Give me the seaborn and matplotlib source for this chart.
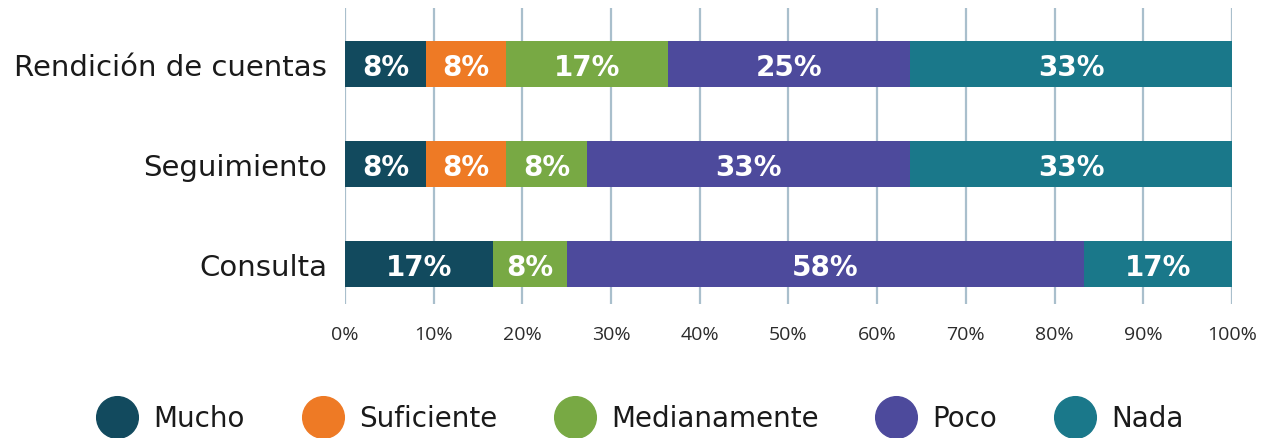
import matplotlib
matplotlib.use("Agg")
import matplotlib.pyplot as plt
from matplotlib.lines import Line2D
import seaborn as sns
import pandas as pd

# Data: segment lengths (share of bar, %) and printed labels
categories = ["Rendición de cuentas", "Seguimiento", "Consulta"]
levels = ["Mucho", "Suficiente", "Medianamente", "Poco", "Nada"]
colors = ["#124a5e", "#ee7a25", "#78a944", "#4d4a9c", "#1a788a"]

rendicion = [9.1, 9.1, 18.2, 27.3, 36.3]
seguimiento = [9.1, 9.1, 9.1, 36.4, 36.3]
consulta = [16.7, 0.0, 8.3, 58.3, 16.7]

rendicion_lbl = ["8%", "8%", "17%", "25%", "33%"]
seguimiento_lbl = ["8%", "8%", "8%", "33%", "33%"]
consulta_lbl = ["17%", "", "8%", "58%", "17%"]

xticks = [0, 10, 20, 30, 40, 50, 60, 70, 80, 90, 100]

df = pd.DataFrame([rendicion, seguimiento, consulta], index=categories, columns=levels)
lbl = pd.DataFrame([rendicion_lbl, seguimiento_lbl, consulta_lbl], index=categories, columns=levels)
cum = df.cumsum(axis=1)

sns.set_style("white")
plt.rcParams["font.family"] = ["DejaVu Sans"]

fig = plt.figure(figsize=(12.66, 4.39), dpi=100)
ax = fig.add_axes([0.2725, 0.3052, 0.9731 - 0.2725, 0.9795 - 0.3052])

# Draw cumulative bars from the longest to the shortest so they stack
for lev, col in zip(levels[::-1], colors[::-1]):
    sns.barplot(x=cum[lev].values, y=categories, orient="h", color=col,
                width=0.46, saturation=1, linewidth=0, ax=ax, zorder=3)

# Segment labels
for i, cat in enumerate(categories):
    for lev in levels:
        v = df.loc[cat, lev]
        if v <= 0:
            continue
        mid = cum.loc[cat, lev] - v / 2
        ax.text(mid, i, lbl.loc[cat, lev], ha="center", va="center_baseline",
                color="white", fontsize=20, fontweight="heavy", zorder=4)

ax.set_xlim(0, 100)
ax.set_ylim(2.40, -0.56)
ax.set_xticks(xticks)
ax.set_xticklabels([f"{t}%" for t in xticks], fontsize=14, color="#2b2b2b",
                   family=["Open Sans", "DejaVu Sans"])
ax.tick_params(axis="y", labelsize=21, labelcolor="#1a1a1a", length=0, pad=13)
ax.tick_params(axis="x", length=0, pad=15)
ax.grid(axis="x", color="#a9bfcc", lw=1.6, zorder=0)
ax.set_axisbelow(True)
ax.set_xlabel("")
ax.set_ylabel("")
for s in ax.spines.values():
    s.set_visible(False)

handles = [Line2D([], [], marker="o", ls="", markersize=30, color=c) for c in colors]
fig.legend(handles, levels, loc="center", bbox_to_anchor=(0.5055, 0.045), ncol=5,
           frameon=False, fontsize=20, handletextpad=0.55, handlelength=1.5,
           columnspacing=2.05, labelcolor="#1a1a1a", borderaxespad=0)

plt.savefig("out.png", dpi=100)
